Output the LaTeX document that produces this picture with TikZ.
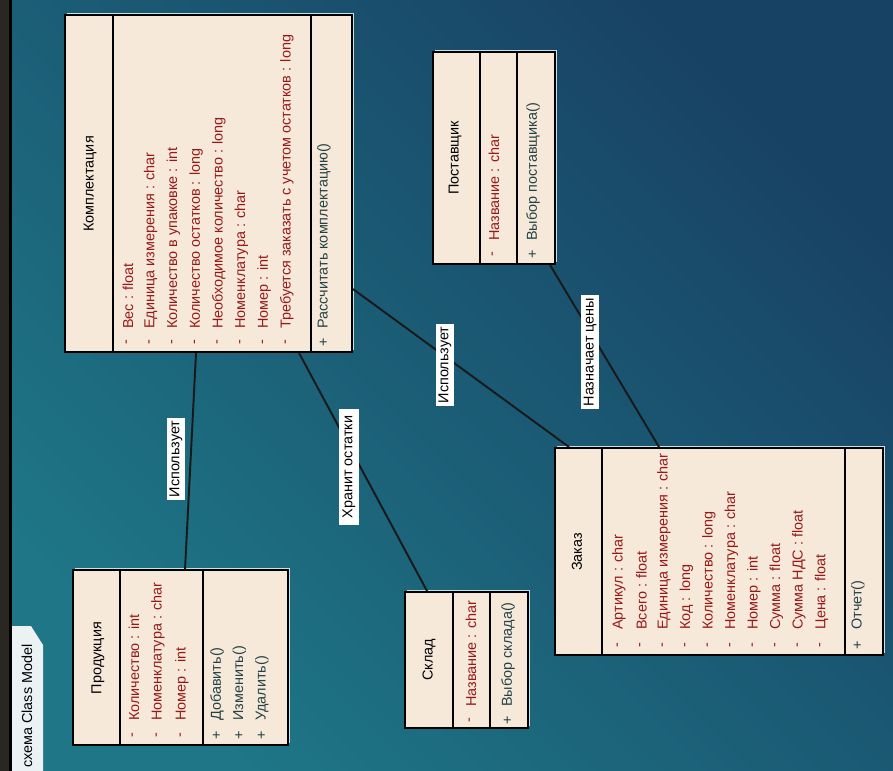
\documentclass[tikz,border=0pt]{standalone}
\usepackage{fontspec}
\setmainfont{Liberation Sans}
\usetikzlibrary{calc,fit}
\definecolor{bgblue}{RGB}{24,66,100}
\definecolor{bgmid}{RGB}{30,102,122}
\definecolor{bgteal}{RGB}{30,118,134}
\definecolor{boxfill}{RGB}{247,233,218}
\definecolor{attrred}{RGB}{150,25,25}
\definecolor{methcol}{RGB}{35,65,70}
\definecolor{hilite}{RGB}{200,226,236}
\definecolor{stripdark}{RGB}{42,38,34}
\definecolor{tabfill}{RGB}{236,242,244}
\newcommand\classbox[5]{%
  \fill[hilite] (#2+2,#3-2) rectangle (#4+2,#5-2);
  \node[box, fit={(#2,#3)(#4,#5)}] (#1) {};}
\begin{document}
\begin{tikzpicture}[x=0.02cm,y=-0.02cm, font=\fontsize{8.2}{9}\selectfont,
  box/.style={draw=black, line width=1.1pt, fill=boxfill, inner sep=0pt},
  div/.style={draw=black, line width=1.1pt},
  hdr/.style={rotate=90, inner sep=0pt, text=black},
  attr/.style={rotate=90, anchor=west, inner sep=0pt, text=attrred},
  meth/.style={rotate=90, anchor=west, inner sep=0pt, text=methcol},
  vis/.style={rotate=90, inner sep=0pt},
  assoc/.style={draw=black!90, line width=1.1pt},
  lbl/.style={rotate=90, fill=white, inner sep=1.6pt, text=black}]
\useasboundingbox (0,0) rectangle (893,771);
\begin{scope}
\clip (0,0) rectangle (893,771);
\shade[top color=bgblue, middle color=bgmid, bottom color=bgteal, shading angle=-45] (0,0) rectangle (893,771);
\fill[stripdark] (0,0) rectangle (9,771);
\fill[black] (9,0) rectangle (12,771);
\fill[tabfill] (12,626) -- (31,626) -- (43,645) -- (43,771) -- (12,771) -- cycle;
\node[rotate=90, anchor=east, inner sep=0pt] (tabtext) at (27,644) {схема Class Model};

% Комплектация
\classbox{komp}{65}{15}{352}{352}
\draw[div] (113,15) -- (113,352);
\draw[div] (311,15) -- (311,352);
\node[hdr] (komp-h) at (90,184) {Комплектация};
\foreach \t [count=\i from 0] in {Вес : float, Единица измерения : char, Количество в упаковке : int, Количество остатков : long, Необходимое количество : long, Номенклатура : char, Номер : int, Требуется заказать с учетом остатков : long}{
  \node[attr] (komp-a\i) at (128+22.7*\i,329) {\t};
  \node[vis, text=attrred] (komp-m\i) at (128+22.7*\i,342) {-};
}
\node[meth] (komp-o0) at (324,329) {Рассчитать комплектацию()};
\node[vis, text=methcol] (komp-p0) at (324,342) {+};

% Поставщик
\classbox{post}{433}{52}{555}{264}
\draw[div] (480,52) -- (480,264);
\draw[div] (517,52) -- (517,264);
\node[hdr] (post-h) at (455,158) {Поставщик};
\node[attr] (post-a0) at (494,241) {Название : char};
\node[vis, text=attrred] (post-m0) at (494,254) {-};
\node[meth] (post-o0) at (533,241) {Выбор поставщика()};
\node[vis, text=methcol] (post-p0) at (533,254) {+};

% Заказ
\classbox{zak}{555}{448}{883}{655}
\draw[div] (602,448) -- (602,655);
\draw[div] (845,448) -- (845,655);
\node[hdr] (zak-h) at (577,552) {Заказ};
\foreach \t [count=\i from 0] in {Артикул : char, Всего : float, Единица измерения : char, Код : long, Количество : long, Номенклатура : char, Номер : int, Сумма : float, Сумма НДС : float, Цена : float}{
  \node[attr] (zak-a\i) at (619+22.5*\i,630) {\t};
  \node[vis, text=attrred] (zak-m\i) at (619+22.5*\i,645) {-};
}
\node[meth] (zak-o0) at (858,630) {Отчет()};
\node[vis, text=methcol] (zak-p0) at (858,645) {+};

% Продукция
\classbox{prod}{73}{570}{288}{745}
\draw[div] (120,570) -- (120,745);
\draw[div] (203,570) -- (203,745);
\node[hdr] (prod-h) at (98,658) {Продукция};
\foreach \t [count=\i from 0] in {Количество : int, Номенклатура : char, Номер : int}{
  \node[attr] (prod-a\i) at (134+24*\i,721) {\t};
  \node[vis, text=attrred] (prod-m\i) at (134+24*\i,735) {-};
}
\foreach \t [count=\i from 0] in {Добавить(), Изменить(), Удалить()}{
  \node[meth] (prod-o\i) at (217+22.5*\i,721) {\t};
  \node[vis, text=methcol] (prod-p\i) at (217+22.5*\i,735) {+};
}

% Склад
\classbox{skl}{405}{592}{528}{728}
\draw[div] (453,592) -- (453,728);
\draw[div] (490,592) -- (490,728);
\node[hdr] (skl-h) at (429,660) {Склад};
\node[attr] (skl-a0) at (471,707) {Название : char};
\node[vis, text=attrred] (skl-m0) at (471,720) {-};
\node[meth] (skl-o0) at (508,707) {Выбор склада()};
\node[vis, text=methcol] (skl-p0) at (508,720) {+};

% connectors
\draw[assoc] ($(komp.south west)+(132,0)$) -- ($(prod.north west)+(113,0)$);
\draw[assoc] ($(komp.south west)+(235,0)$) -- ($(skl.north west)+(23,0)$);
\draw[assoc] ($(komp.north east)+(0,275)$) -- ($(zak.north west)+(15,0)$);
\draw[assoc] ($(post.south west)+(118,0)$) -- ($(zak.north west)+(105,0)$);

\node[lbl] (l1) at (176,459) {Использует};
\node[lbl, inner ysep=2pt, inner xsep=4pt] (l2) at (349,467) {Хранит остатки};
\node[lbl] (l3) at (445,365) {Использует};
\node[lbl] (l4) at (590,352) {Назначает цены};
\end{scope}
\end{tikzpicture}
\end{document}
